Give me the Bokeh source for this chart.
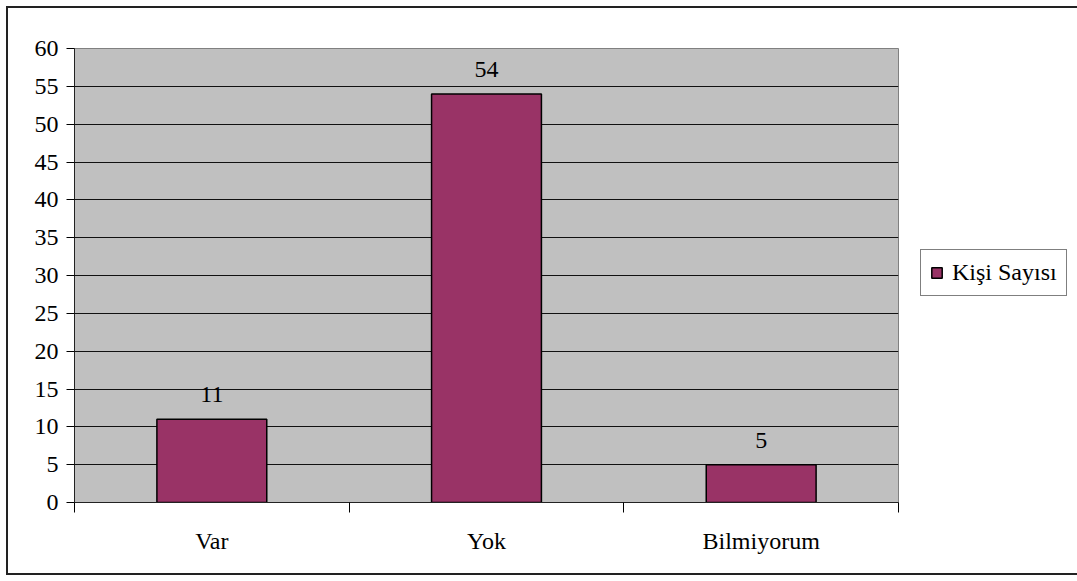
from bokeh.plotting import figure
from bokeh.models import FixedTicker, ColumnDataSource, Legend, LegendItem, Range1d
from bokeh.core.properties import value
from bokeh.embed import file_html
from bokeh.resources import INLINE

categories = ["Var", "Yok", "Bilmiyorum"]
counts = [11, 54, 5]
series_name = "Kişi Sayısı"
y_ticks = list(range(0, 65, 5))

FONT = "Liberation Serif"
BAR = "#993366"
FS = "24px"

xs = [i + 0.5 for i in range(len(categories))]
src = ColumnDataSource(dict(x=xs, y=counts, lab=[str(c) for c in counts]))

p = figure(width=1069, height=573, output_backend="svg", toolbar_location=None,
           x_range=Range1d(0, len(categories)), y_range=Range1d(0, 60),
           min_border_left=66, min_border_top=40, min_border_right=171, min_border_bottom=71,
           frame_width=824, frame_height=454)
p.margin = (6, 0, 0, 6)
p.styles = {"border": "2px solid #222"}
p.background_fill_color = "#C0C0C0"
p.border_fill_color = "white"
p.outline_line_color = "#808080"
p.outline_line_width = 1

r = p.vbar(x="x", top="y", width=0.4, bottom=0, source=src, fill_color=BAR,
           line_color="black", line_width=1.5)
p.text(x="x", y="y", text="lab", source=src, text_align="center", text_baseline="bottom",
       y_offset=-17, text_font=value(FONT), text_font_size=FS, text_color="black")

p.xgrid.visible = False
p.ygrid.grid_line_color = "#111111"
p.ygrid.grid_line_width = 1
p.ygrid.ticker = FixedTicker(ticks=y_ticks)

p.yaxis.ticker = FixedTicker(ticks=y_ticks)
p.yaxis.major_tick_out = 8
p.yaxis.major_tick_in = 0
p.yaxis.minor_tick_out = 0
p.yaxis.axis_line_color = "#222222"
p.yaxis.major_label_standoff = 8
p.yaxis.major_label_text_font = FONT
p.yaxis.major_label_text_font_size = FS
p.yaxis.major_label_text_color = "black"

p.xaxis.ticker = FixedTicker(ticks=xs, minor_ticks=list(range(len(categories) + 1)))
p.xaxis.major_label_overrides = {x: c for x, c in zip(xs, categories)}
p.xaxis.major_tick_out = 0
p.xaxis.major_tick_in = 0
p.xaxis.minor_tick_out = 10
p.xaxis.minor_tick_in = 0
p.xaxis.axis_line_color = "#222222"
p.xaxis.major_label_standoff = 15
p.xaxis.major_label_text_font = FONT
p.xaxis.major_label_text_font_size = FS
p.xaxis.major_label_text_color = "black"

legend = Legend(items=[LegendItem(label=series_name, renderers=[r])],
                location=(22, 206), border_line_color="black", border_line_width=1,
                label_text_font=FONT, label_text_font_size=FS, padding=9,
                glyph_width=13, glyph_height=13, label_standoff=9, margin=0,
                background_fill_color="white", label_text_color="black")
p.add_layout(legend, "right")

open("out.html", "w").write(file_html(p, INLINE))
